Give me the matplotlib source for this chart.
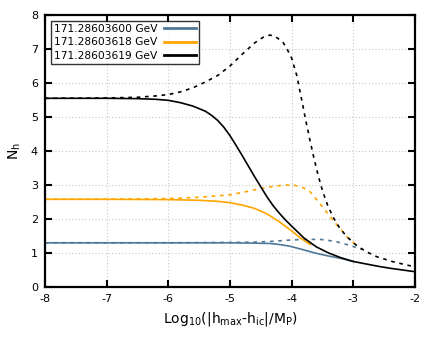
import matplotlib
matplotlib.use("Agg")
import matplotlib.pyplot as plt

plt.rcParams['font.family'] = ['DejaVu Sans']
plt.rcParams['mathtext.default'] = 'regular'

labels = ["171.28603600 GeV", "171.28603618 GeV", "171.28603619 GeV"]
colors = ["#4f7898", "#ffa500", "#000000"]

# solid curves
blue_x = [-8, -7, -6, -5.5, -5.0, -4.6, -4.35, -4.2, -4.03, -3.8, -3.6, -3.4, -3.2, -3.0]
blue_y = [1.30, 1.30, 1.30, 1.30, 1.30, 1.29, 1.28, 1.25, 1.20, 1.09, 0.99, 0.91, 0.84, 0.75]

orange_x = [-8, -7, -6, -5.5, -5.2, -5.0, -4.8, -4.6, -4.4, -4.2, -4.0, -3.85, -3.7]
orange_y = [2.58, 2.58, 2.57, 2.55, 2.52, 2.48, 2.41, 2.31, 2.15, 1.92, 1.65, 1.43, 1.25]

black_x = [-8, -7, -6.5, -6.2, -6.0, -5.8, -5.6, -5.4, -5.3, -5.2, -5.1, -5.0, -4.9, -4.8,
           -4.6, -4.4, -4.3, -4.2, -4.1, -4.0, -3.8, -3.6, -3.4, -3.2, -3.0, -2.8, -2.6,
           -2.4, -2.2, -2.0]
black_y = [5.55, 5.55, 5.54, 5.52, 5.49, 5.42, 5.32, 5.17, 5.05, 4.90, 4.70, 4.45, 4.16, 3.86,
           3.24, 2.65, 2.39, 2.17, 1.97, 1.79, 1.44, 1.18, 1.00, 0.86, 0.75, 0.68, 0.61,
           0.55, 0.50, 0.45]

# dashed curves
blue_dx = [-8, -6, -5.0, -4.6, -4.35, -4.03, -3.8, -3.54, -3.4, -3.27, -3.13, -3.0, -2.86]
blue_dy = [1.30, 1.30, 1.31, 1.32, 1.34, 1.38, 1.40, 1.40, 1.37, 1.33, 1.26, 1.19, 1.10]

orange_dx = [-8, -7, -6.5, -6.0, -5.5, -5.0, -4.75, -4.5, -4.3, -4.1, -3.95, -3.8, -3.7,
             -3.6, -3.5, -3.4, -3.3, -3.22, -3.10, -2.96]
orange_dy = [2.58, 2.58, 2.59, 2.60, 2.64, 2.71, 2.80, 2.90, 2.96, 3.00, 2.99, 2.91, 2.80,
             2.58, 2.36, 2.12, 1.90, 1.73, 1.47, 1.24]

black_dx = [-8, -7, -6.5, -6.2, -6.0, -5.8, -5.6, -5.4, -5.2, -5.0, -4.8, -4.6, -4.45,
            -4.35, -4.27, -4.15, -4.08, -4.0, -3.92, -3.85, -3.78, -3.71, -3.64, -3.57,
            -3.50, -3.42, -3.33, -3.22, -3.10, -2.96, -2.80, -2.62, -2.35, -2.0]
black_dy = [5.55, 5.56, 5.58, 5.62, 5.66, 5.74, 5.86, 6.03, 6.22, 6.50, 6.85, 7.18, 7.36,
            7.41, 7.37, 7.22, 7.02, 6.73, 6.24, 5.62, 4.98, 4.37, 3.80, 3.28,
            2.83, 2.42, 2.06, 1.73, 1.47, 1.24, 1.05, 0.89, 0.74, 0.59]

xticks = [-8, -7, -6, -5, -4, -3, -2]
yticks = [0, 1, 2, 3, 4, 5, 6, 7, 8]

fig = plt.figure(figsize=(4.36, 3.49), dpi=100)
ax = fig.add_axes([45/436, 62/349, 370/436, 272/349])

dash = (0, (2.2, 2.8))
lw = 1.2
ax.plot(blue_dx, blue_dy, color=colors[0], lw=lw, linestyle=dash)
ax.plot(orange_dx, orange_dy, color=colors[1], lw=lw, linestyle=dash)
ax.plot(black_dx, black_dy, color=colors[2], lw=lw, linestyle=dash)

ax.plot(blue_x, blue_y, color=colors[0], lw=lw, label=labels[0])
ax.plot(orange_x, orange_y, color=colors[1], lw=lw, label=labels[1])
ax.plot(black_x, black_y, color=colors[2], lw=lw, label=labels[2])

ax.set_xlim(-8, -2)
ax.set_ylim(0, 8)
ax.set_xticks(xticks)
ax.set_yticks(yticks)
ax.set_xticklabels([str(t) for t in xticks])
ax.set_yticklabels([str(t) for t in yticks])
ax.tick_params(direction='in', length=5, width=1.5, top=True, right=True,
               labelsize=8, pad=5, colors='black')
ax.grid(True, color='#c8c8c8', linestyle=(0, (1, 2)), linewidth=0.8)
ax.set_axisbelow(True)
for s in ax.spines.values():
    s.set_linewidth(1.6)

ax.set_xlabel('Log$_{10}$(|h$_{max}$-h$_{ic}$|/M$_{P}$)', fontsize=10, labelpad=4)
ax.set_ylabel('N$_{h}$', fontsize=10, labelpad=6)

leg = ax.legend(loc='upper left', bbox_to_anchor=(6/370, 1 - 6/272), markerfirst=False,
                fontsize=7.7, frameon=True, fancybox=False, borderaxespad=0,
                handlelength=3.0, handletextpad=0.6, labelspacing=0.3,
                borderpad=0.3)
leg.get_frame().set_edgecolor('black')
leg.get_frame().set_linewidth(1.0)
for line in leg.get_lines():
    line.set_linewidth(2.0)

fig.savefig('out.png', dpi=100)
